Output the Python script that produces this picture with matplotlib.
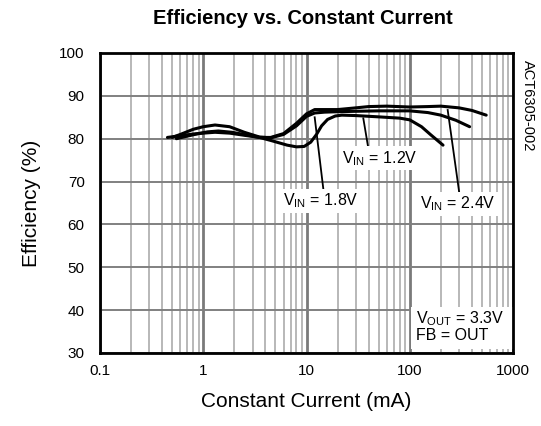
import matplotlib
matplotlib.use("Agg")
import matplotlib.pyplot as plt
from matplotlib.ticker import LogLocator, FixedLocator, NullFormatter
from matplotlib.patches import Rectangle

plt.rcParams['font.family'] = ['Liberation Sans', 'DejaVu Sans']

# Data
i_24 = [0.45, 0.6, 0.8, 1.0, 1.3, 1.8, 2.5, 3.5, 4.5, 6.0, 8.0, 10.0, 12.0, 15.0, 20.0, 30.0, 40.0, 60.0, 100.0, 150.0, 200.0, 300.0, 400.0, 550.0]
e_24 = [80.3, 80.7, 81.1, 81.3, 81.5, 81.3, 80.8, 80.3, 80.3, 81.2, 83.6, 85.8, 86.8, 86.8, 86.8, 87.2, 87.5, 87.6, 87.4, 87.5, 87.6, 87.2, 86.6, 85.5]

i_18 = [0.5, 0.6, 0.8, 1.0, 1.3, 1.8, 2.5, 3.5, 4.5, 6.0, 8.0, 10.0, 12.0, 15.0, 20.0, 30.0, 50.0, 100.0, 150.0, 200.0, 280.0, 380.0]
e_18 = [80.3, 81.0, 82.2, 82.8, 83.2, 82.8, 81.5, 80.4, 80.2, 81.0, 83.0, 85.2, 86.0, 86.2, 86.3, 86.4, 86.5, 86.5, 86.1, 85.5, 84.3, 82.8]

i_12 = [0.55, 0.7, 0.9, 1.1, 1.4, 1.9, 2.6, 3.5, 4.5, 5.5, 6.5, 8.0, 9.5, 11.0, 12.5, 14.0, 16.0, 19.0, 22.0, 30.0, 50.0, 80.0, 100.0, 130.0, 160.0, 210.0]
e_12 = [80.0, 80.6, 81.2, 81.6, 81.8, 81.5, 80.9, 80.3, 79.6, 79.0, 78.5, 78.1, 78.2, 79.2, 81.0, 83.0, 84.5, 85.3, 85.5, 85.4, 85.1, 84.8, 84.4, 82.8, 80.9, 78.5]

x_ticks = [0.1, 1, 10, 100, 1000]
x_labels = ['0.1', '1', '10', '100', '1000']
y_ticks = [30, 40, 50, 60, 70, 80, 90, 100]

fig = plt.figure(figsize=(5.41, 4.26), dpi=100)
ax = fig.add_axes([100/541, 1-353/426, 413/541, 300/426])
ax.set_xscale('log')
ax.set_xlim(0.1, 1000)
ax.set_ylim(30, 100)

# grid
ax.xaxis.set_major_locator(FixedLocator(x_ticks))
ax.xaxis.set_minor_locator(LogLocator(base=10, subs=[2, 3, 4, 5, 6, 7, 8, 9], numticks=20))
ax.xaxis.set_minor_formatter(NullFormatter())
ax.set_xticks(x_ticks)
ax.set_xticklabels(x_labels)
ax.set_yticks(y_ticks)
ax.grid(True, which='major', axis='x', color='#7a7a7a', linewidth=2.0)
ax.grid(True, which='minor', axis='x', color='#b8b8b8', linewidth=1.4)
ax.grid(True, which='major', axis='y', color='#808080', linewidth=1.4)
ax.set_axisbelow(True)
ax.tick_params(axis='both', which='both', length=0, labelsize=11)
ax.tick_params(axis='x', pad=8)
ax.tick_params(axis='y', pad=11)
for s in ax.spines.values():
    s.set_linewidth(2.0)
    s.set_color('black')
    s.set_zorder(6)

for xs, ys in [(i_24, e_24), (i_18, e_18), (i_12, e_12)]:
    ax.plot(xs, ys, color='black', linewidth=2.2, solid_capstyle='round', zorder=3)

# pointer lines
ax.plot([12.0, 14.6], [85.0, 68.0], color='black', linewidth=1.3, zorder=3)
ax.plot([35.5, 40.0], [84.75, 77.3], color='black', linewidth=1.3, zorder=3)
ax.plot([233, 302], [86.7, 67.3], color='black', linewidth=1.3, zorder=3)

bbox = dict(facecolor='white', edgecolor='none', pad=2)
fs = 11.5
ax.text(5.9, 65.5, r'V$_{\mathregular{IN}}$ = 1.8V', fontsize=fs, va='center', ha='left', bbox=bbox, zorder=4)
ax.text(22.0, 75.4, r'V$_{\mathregular{IN}}$ = 1.2V', fontsize=fs, va='center', ha='left', bbox=bbox, zorder=4)
ax.text(126, 64.8, r'V$_{\mathregular{IN}}$ = 2.4V', fontsize=fs, va='center', ha='left', bbox=bbox, zorder=4)
ax.add_patch(Rectangle((102, 31.0), 898, 9.8, facecolor='white', edgecolor='none', zorder=4))
ax.text(115, 36.3, 'V$_{\\mathregular{OUT}}$ = 3.3V\nFB = OUT', fontsize=fs, va='center', ha='left',
        linespacing=1.0, zorder=5)

ax.set_xlabel('Constant Current (mA)', fontsize=15, labelpad=10)
ax.set_ylabel('Efficiency (%)', fontsize=15, labelpad=13)
fig.text(303/541, 1-18/426, 'Efficiency vs. Constant Current', fontsize=14.5, fontweight='bold',
         ha='center', va='center')
fig.text(528/541, 1-106/426, 'ACT6305-002', fontsize=10.5, rotation=-90, ha='center', va='center')

fig.savefig('out.png', dpi=100)
